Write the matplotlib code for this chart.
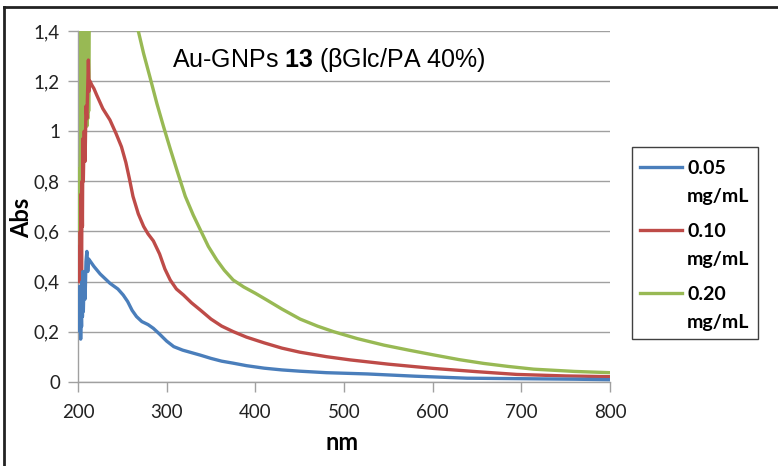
import matplotlib

matplotlib.use("Agg")
import matplotlib.pyplot as plt
from matplotlib.lines import Line2D
from matplotlib.patches import Rectangle

plt.rcParams.update({
    "mathtext.fontset": "custom",
    "mathtext.rm": "Liberation Sans",
    "mathtext.bf": "Liberation Sans:bold",
})

# --------------------------------------------------
# data (wavelength in nm, absorbance)
# --------------------------------------------------
nm_005 = [201, 201.5, 202, 202.5, 203, 203.5, 204, 204.5, 205, 205.5, 206, 207,
          208, 209, 210, 211, 212, 214, 218, 225, 236, 245, 251, 256, 261, 266,
          272, 279, 285, 292, 300, 308, 318, 328, 338, 350, 362, 375, 390, 410,
          430, 450, 480, 526, 580, 639, 700, 760, 800]
abs_005 = [0.22, 0.38, 0.20, 0.33, 0.17, 0.30, 0.22, 0.40, 0.26, 0.44, 0.28, 0.42,
           0.33, 0.48, 0.52, 0.44, 0.49, 0.48, 0.46, 0.43, 0.393, 0.37, 0.346, 0.32,
           0.285, 0.26, 0.24, 0.228, 0.213, 0.19, 0.162, 0.14, 0.126, 0.116, 0.106,
           0.093, 0.082, 0.074, 0.064, 0.054, 0.047, 0.042, 0.036, 0.031, 0.022,
           0.014, 0.012, 0.01, 0.008]

nm_010 = [201, 201.5, 202, 202.5, 203, 203.5, 204, 204.5, 205, 205.5, 206, 207,
          208, 209, 210, 211, 211.7, 212.5, 213.5, 215.5, 218, 221, 228, 236,
          243, 249, 254, 258, 262, 268, 274, 279, 285, 292, 298, 304, 311,
          319, 328, 338, 350, 362, 375, 390, 410, 430, 450, 480, 507, 550, 601,
          650, 695, 750, 800]
abs_010 = [0.40, 0.54, 0.45, 0.60, 0.50, 0.75, 0.35, 0.80, 0.62, 0.97, 0.80, 1.00,
           0.88, 1.10, 1.05, 1.18, 1.284, 1.16, 1.20, 1.185, 1.17, 1.145, 1.09,
           1.045, 0.99, 0.938, 0.875, 0.81, 0.74, 0.67, 0.62, 0.59, 0.562, 0.51,
           0.45, 0.406, 0.37, 0.346, 0.315, 0.286, 0.25, 0.222, 0.20, 0.178, 0.155,
           0.134, 0.118, 0.1, 0.087, 0.07, 0.053, 0.04, 0.029, 0.023, 0.02]

# values above 1.4 are off scale in the reference
nm_020 = [201, 201.5, 202, 202.5, 203, 203.5, 204, 204.5, 205, 205.5, 206,
          206.5, 207, 207.5, 208, 208.5, 209, 209.5, 210, 210.5, 211, 211.5,
          212, 213, 230, 250, 262, 268, 274, 281, 289, 296.5, 304, 311.5, 321,
          330, 338, 347, 356.5, 365, 375, 387, 400, 413, 430, 450.5, 470, 488,
          515, 545, 573, 601, 630, 657.5, 685, 714, 760, 800]
abs_020 = [0.55, 0.85, 0.80, 0.85, 0.95, 1.50, 0.98, 1.50, 1.02, 1.50, 1.00,
           1.50, 1.05, 1.50, 1.00, 1.50, 1.05, 1.50, 1.02, 1.50, 1.05, 1.50,
           1.08, 1.60, 2.20, 1.80, 1.55, 1.40, 1.31, 1.218, 1.11, 1.018, 0.93,
           0.845, 0.74, 0.665, 0.606, 0.54, 0.486, 0.445, 0.406, 0.378, 0.353,
           0.326, 0.29, 0.25, 0.222, 0.2, 0.172, 0.146, 0.126, 0.107, 0.088,
           0.073, 0.061, 0.05, 0.041, 0.036]

series = [
    ("0.05", nm_005, abs_005, "#4a7ebb"),
    ("0.10", nm_010, abs_010, "#be4b48"),
    ("0.20", nm_020, abs_020, "#98b954"),
]

x_ticks = [200, 300, 400, 500, 600, 700, 800]
y_ticks = [0, 0.2, 0.4, 0.6, 0.8, 1.0, 1.2, 1.4]
y_tick_labels = ["0", "0,2", "0,4", "0,6", "0,8", "1", "1,2", "1,4"]

W, H = 778, 466


def fx(px):
    return px / W


def fy(py):
    return 1 - py / H


# --------------------------------------------------
# figure
# --------------------------------------------------
fig = plt.figure(figsize=(W / 100, H / 100), dpi=100)
ax = fig.add_axes([fx(78), fy(381.7), fx(610) - fx(78), fy(31) - fy(381.7)])

# lower concentrations sit on top in the reference
for i, (label, x, y, color) in enumerate(series):
    ax.plot(x, y, color=color, lw=2.4, solid_joinstyle="round",
            zorder=5 - i)

ax.set_xlim(200, 800)
ax.set_ylim(0, 1.4)
ax.set_xticks(x_ticks)
ax.set_yticks(y_ticks)
ax.set_yticklabels(y_tick_labels)

for lab in ax.get_xticklabels() + ax.get_yticklabels():
    lab.set_fontfamily("Lato")
    lab.set_fontsize(13.5)
    lab.set_color("#222222")

ax.grid(axis="y", color="#a0a0a0", lw=1.0)
ax.set_axisbelow(True)
for side in ("top", "right"):
    ax.spines[side].set_visible(False)
for side in ("left", "bottom"):
    ax.spines[side].set_color("#a0a0a0")
    ax.spines[side].set_linewidth(1.0)
ax.tick_params(axis="both", direction="out", length=7, width=1.0,
               color="#a0a0a0")
ax.tick_params(axis="x", pad=9)
ax.tick_params(axis="y", pad=6)

# axis labels
fig.text(fx(342), fy(443), "nm", ha="center", va="center",
         fontfamily="Lato", fontweight="bold", fontsize=17)
fig.text(fx(22), fy(218), "Abs", rotation=90, ha="center", va="center",
         fontfamily="Lato", fontweight="bold", fontsize=17)

# title inside the plot
fig.text(fx(172), fy(60), "Au-GNPs $\\mathbf{13}$ (βGlc/PA 40%)",
         ha="left", va="center", fontfamily="Liberation Sans", fontsize=18)

# legend, built by hand so each marker sits on the first text line
fig.add_artist(Rectangle((fx(632), fy(339)), fx(758) - fx(632),
                         fy(147) - fy(339), transform=fig.transFigure,
                         fill=False, edgecolor="#404040", lw=1.0))
for i, (label, _, _, color) in enumerate(series):
    y_line = 167 + 63 * i
    fig.add_artist(Line2D([fx(640), fx(682)], [fy(y_line), fy(y_line)],
                          transform=fig.transFigure, color=color, lw=2.4))
    fig.text(fx(687), fy(y_line + 7), label, ha="left", va="baseline",
             fontfamily="Lato", fontweight="bold", fontsize=14)
    fig.text(fx(687), fy(y_line + 35), "mg/mL", ha="left", va="baseline",
             fontfamily="Lato", fontweight="bold", fontsize=14)

# outer frame (top and left edges visible)
fig.add_artist(Line2D([fx(4), fx(4)], [0, fy(7)],
                      transform=fig.transFigure, color="#222222", lw=2))
fig.add_artist(Line2D([fx(4), 1], [fy(7), fy(7)],
                      transform=fig.transFigure, color="#222222", lw=2))

fig.savefig("out.png", dpi=100)
